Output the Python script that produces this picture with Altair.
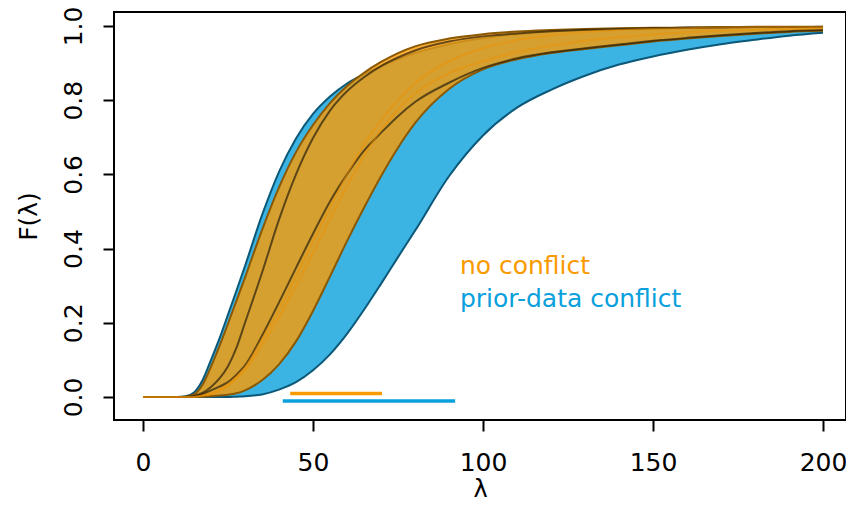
import altair as alt
import pandas as pd

# lambda grid (x values)
lam = [0, 10, 12.5, 15, 17.5, 20, 22.5, 25, 27.5, 30, 35, 40, 45, 50, 55, 60,
       65, 70, 75, 80, 90, 100, 110, 120, 130, 140, 150, 160, 170, 180, 190, 200]

# prior-data conflict set: upper / lower envelope
blue_upper = [0, 0, 0.002, 0.012, 0.045, 0.1, 0.158, 0.222, 0.287, 0.353, 0.49, 0.607,
              0.697, 0.763, 0.81, 0.845, 0.87, 0.892, 0.911, 0.927, 0.951, 0.967, 0.978,
              0.985, 0.989, 0.992, 0.994, 0.995, 0.996, 0.997, 0.997, 0.998]
blue_lower = [0, 0, 0, 0, 0, 0, 0, 0, 0.001, 0.002, 0.007, 0.02, 0.04, 0.072, 0.115, 0.17,
              0.235, 0.305, 0.377, 0.448, 0.595, 0.705, 0.78, 0.828, 0.866, 0.896, 0.918,
              0.936, 0.951, 0.963, 0.974, 0.982]
# no conflict set: upper / lower envelope
orange_upper = [0, 0, 0.001, 0.007, 0.033, 0.082, 0.138, 0.198, 0.26, 0.322, 0.45, 0.565,
                0.66, 0.733, 0.792, 0.838, 0.874, 0.903, 0.927, 0.945, 0.966, 0.978, 0.985,
                0.989, 0.992, 0.994, 0.995, 0.996, 0.997, 0.998, 0.998, 0.998]
orange_lower = [0, 0, 0, 0, 0.001, 0.002, 0.004, 0.006, 0.01, 0.018, 0.045, 0.088, 0.15,
                0.232, 0.325, 0.42, 0.51, 0.595, 0.672, 0.738, 0.83, 0.883, 0.91, 0.927,
                0.938, 0.948, 0.958, 0.966, 0.973, 0.979, 0.984, 0.987]
# dark inner curves
dark_1 = [0, 0, 0, 0.003, 0.011, 0.027, 0.05, 0.083, 0.133, 0.2, 0.335, 0.478, 0.6, 0.698,
          0.772, 0.824, 0.862, 0.892, 0.915, 0.934, 0.958, 0.972, 0.98, 0.986, 0.99,
          0.992, 0.994, 0.995, 0.996, 0.997, 0.997, 0.997]
dark_2 = [0, 0, 0, 0.002, 0.008, 0.018, 0.028, 0.04, 0.06, 0.085, 0.165, 0.255, 0.348,
          0.44, 0.527, 0.6, 0.664, 0.712, 0.757, 0.795, 0.847, 0.887, 0.913, 0.929, 0.94,
          0.95, 0.96, 0.968, 0.975, 0.981, 0.986, 0.989]
# faint orange inner curves
faint_1 = [0, 0, 0, 0.001, 0.004, 0.01, 0.02, 0.035, 0.055, 0.08, 0.155, 0.235, 0.325, 0.42,
           0.51, 0.6, 0.68, 0.745, 0.8, 0.845, 0.905, 0.94, 0.962, 0.975, 0.984, 0.989,
           0.992, 0.994, 0.996, 0.997, 0.997, 0.998]
faint_2 = [0, 0, 0, 0, 0.003, 0.008, 0.016, 0.03, 0.05, 0.072, 0.14, 0.215, 0.3, 0.39, 0.48,
           0.568, 0.65, 0.72, 0.775, 0.818, 0.873, 0.905, 0.93, 0.947, 0.96, 0.97, 0.977,
           0.983, 0.987, 0.99, 0.992, 0.994]

# segments at the bottom
seg_names = ["no conflict", "prior-data conflict"]
seg_start = [43.3, 41.1]
seg_end = [70.3, 91.8]
seg_level = [0.0097, -0.0108]

legend_text = ["no conflict", "prior-data conflict"]
legend_x = [93.2, 93.2]
legend_y = [0.3307, 0.2434]

x_ticks = [0, 50, 100, 150, 200]
y_ticks = [0.0, 0.2, 0.4, 0.6, 0.8, 1.0]

ORANGE = "#F99B00"
BLUE = "#0AA0DC"
FONT = "DejaVu Sans"

df = pd.DataFrame({"lam": lam, "BU": blue_upper, "BL": blue_lower, "OU": orange_upper,
                   "OL": orange_lower, "D1": dark_1, "D2": dark_2, "F1": faint_1,
                   "F2": faint_2})
seg = pd.DataFrame({"name": seg_names, "x1": seg_start, "x2": seg_end, "y": seg_level,
                    "c": [ORANGE, BLUE]})
leg = pd.DataFrame({"t": legend_text, "x": legend_x, "y": legend_y, "c": [ORANGE, BLUE]})

xscale = alt.Scale(domain=[-8.53, 206.76], nice=False, zero=False)
yscale = alt.Scale(domain=[-0.062, 1.0377], nice=False, zero=False)

xaxis = alt.Axis(values=x_ticks, format="d", grid=False, domain=False, ticks=True,
                 tickSize=11, tickWidth=2, tickColor="black", labelFont=FONT,
                 labelFontSize=25, labelColor="black", labelBaseline="alphabetic",
                 labelPadding=39, labelFlush=False, labelOverlap=False,
                 titleFont=FONT, titleFontSize=24, titleFontWeight="normal",
                 titleColor="black", titleY=76, titleBaseline="alphabetic")
yaxis = alt.Axis(values=y_ticks, format=".1f", grid=False, domain=False, ticks=True,
                 tickSize=11, tickWidth=2, tickColor="black", labelFont=FONT,
                 labelFontSize=25, labelColor="black", labelAngle=270,
                 labelAlign="center", labelBaseline="alphabetic", labelPadding=22,
                 labelFlush=False, labelOverlap=False,
                 titleFont=FONT, titleFontSize=25, titleFontWeight="normal",
                 titleColor="black", titleAngle=270, titleX=-78, titleY=204,
                 titleAlign="center", titleBaseline="alphabetic")


def X(field="lam"):
    return alt.X(f"{field}:Q", scale=xscale, axis=xaxis, title="λ")


def Y(field):
    return alt.Y(f"{field}:Q", scale=yscale, axis=yaxis, title="F(λ)")


base = alt.Chart(df)

blue_area = base.mark_area(color=BLUE, opacity=0.8, interpolate="monotone").encode(
    x=X(), y=Y("BL"), y2="BU")
blue_edges = [base.mark_line(color="#0B5878", strokeWidth=2, interpolate="monotone").encode(
    x=X(), y=Y(f)) for f in ["BU", "BL"]]
orange_area = base.mark_area(color="#FC9B03", opacity=0.8, interpolate="monotone").encode(
    x=X(), y=Y("OL"), y2="OU")
orange_edges = [base.mark_line(color="#8A5800", strokeWidth=2, interpolate="monotone").encode(
    x=X(), y=Y(f)) for f in ["OU", "OL"]]
dark_lines = [base.mark_line(color="#2A200C", opacity=0.7, strokeWidth=2,
                             interpolate="monotone").encode(x=X(), y=Y(f))
              for f in ["D1", "D2"]]
faint_lines = [base.mark_line(color="#F09000", opacity=0.5, strokeWidth=2,
                              interpolate="monotone").encode(x=X(), y=Y(f))
               for f in ["F1", "F2"]]

segs = alt.Chart(seg).mark_rule(strokeWidth=3.5, strokeCap="butt").encode(
    x=alt.X("x1:Q", scale=xscale, axis=xaxis, title="λ"), x2="x2:Q",
    y=alt.Y("y:Q", scale=yscale, axis=yaxis, title="F(λ)"),
    color=alt.Color("c:N", scale=None))

texts = alt.Chart(leg).mark_text(font=FONT, fontSize=25, align="left",
                                 baseline="alphabetic").encode(
    x=alt.X("x:Q", scale=xscale, axis=xaxis, title="λ"),
    y=alt.Y("y:Q", scale=yscale, axis=yaxis, title="F(λ)"),
    text="t:N", color=alt.Color("c:N", scale=None))

chart = alt.layer(blue_area, *blue_edges, orange_area, *orange_edges, *dark_lines,
                  *faint_lines, segs, texts).properties(
    width=732, height=408,
    autosize=alt.AutoSizeParams(type="none"),
    padding={"left": 106, "top": 4, "right": 0, "bottom": 81},
    background="white",
).configure_view(stroke="black", strokeWidth=2)

chart.save("out.html", embed_options={"renderer": "svg", "actions": False})
